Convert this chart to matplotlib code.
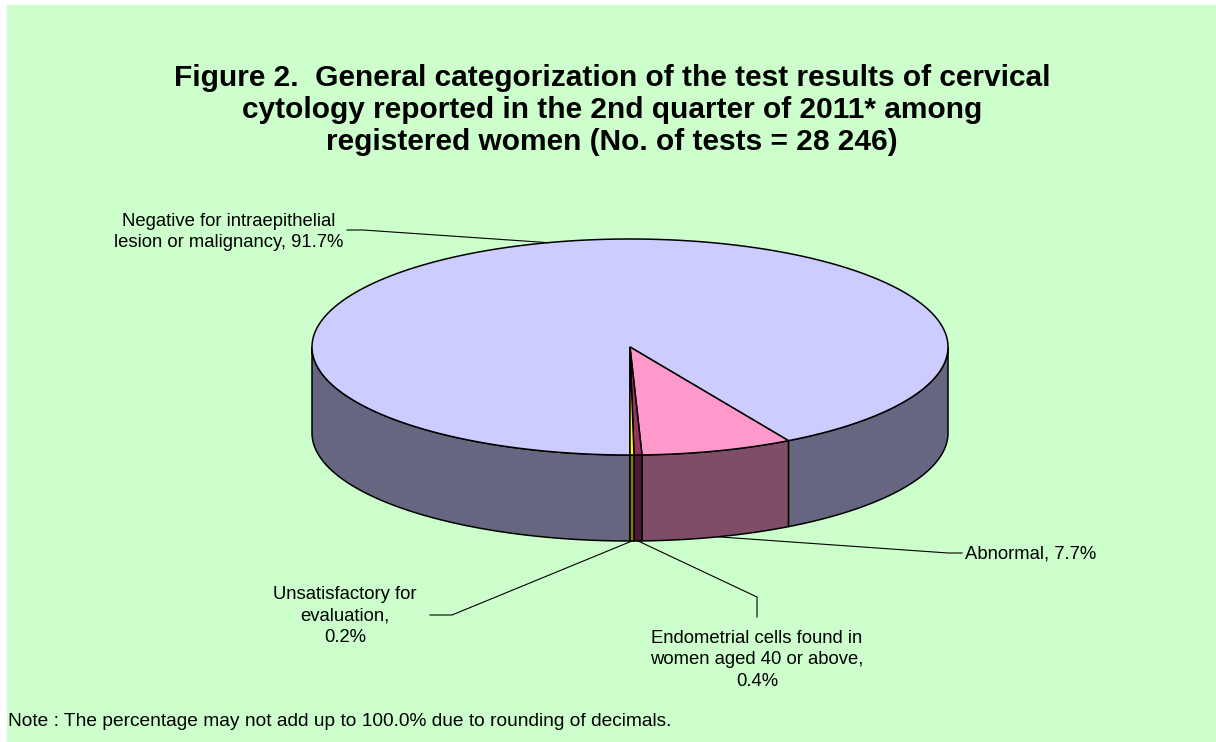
import numpy as np
import matplotlib
matplotlib.use("Agg")
import matplotlib.pyplot as plt
from matplotlib.patches import Polygon, Rectangle

plt.rcParams["font.family"] = ["Liberation Sans", "DejaVu Sans"]

# data (percent of tests)
categories = ["Negative for intraepithelial\nlesion or malignancy",
              "Abnormal",
              "Endometrial cells found in\nwomen aged 40 or above",
              "Unsatisfactory for\nevaluation"]
values = [91.7, 7.7, 0.4, 0.2]
top_colors = ["#CCCCFF", "#FF99CC", "#993366", "#FFFF00"]
side_colors = ["#666680", "#804D66", "#4D1A33", "#808000"]

# pie geometry in pixels
cx, cy = 630, 347
ra, rb = 318, 108
depth = 86

fig = plt.figure(figsize=(12.16, 7.42), dpi=100)
ax = fig.add_axes([0, 0, 1, 1])
ax.set_xlim(0, 1216)
ax.set_ylim(742, 0)
ax.axis("off")

ax.add_patch(Rectangle((7, 5), 1216, 742, facecolor="#CCFFCC", edgecolor="none", zorder=0))


def pt(theta, drop=0.0):
    t = np.radians(theta)
    return cx + ra * np.cos(t), cy - rb * np.sin(t) + drop


# slice angles: start at 6 o'clock, clockwise
total = sum(values)
bounds = []
hi = -90.0
for v in values:
    lo = hi - v / total * 360
    bounds.append((lo, hi))
    hi = lo

# side walls (front half only)
for (lo, hi), col in zip(bounds, side_colors):
    for k in range(-2, 2):
        a0 = max(lo, -180 + 360 * k)
        a1 = min(hi, 360 * k)
        if a1 <= a0:
            continue
        th = np.linspace(a0, a1, 80)
        x, y = pt(th)
        xb, yb = pt(th[::-1], depth)
        verts = np.column_stack([np.r_[x, xb], np.r_[y, yb]])
        ax.add_patch(Polygon(verts, closed=True, facecolor=col, edgecolor="black", lw=1.1, zorder=2))

# top faces
for (lo, hi), col in zip(bounds, top_colors):
    n = max(int((hi - lo) * 2), 4)
    th = np.linspace(lo, hi, n)
    x, y = pt(th)
    verts = np.column_stack([np.r_[cx, x], np.r_[cy, y]])
    ax.add_patch(Polygon(verts, closed=True, facecolor=col, edgecolor="black", lw=1.1, zorder=3))

# labels with leader lines
label_text = [f"{c}, {v}%" for c, v in zip(categories, values)]
label_text[3] = "Unsatisfactory for\nevaluation,\n0.2%"
label_text[2] = "Endometrial cells found in\nwomen aged 40 or above,\n0.4%"
mids = [(lo + hi) / 2 for lo, hi in bounds]
fs = 13.3
ls = 1.38

# negative
mx, my = pt(mids[0])
ax.plot([347, 363, mx], [230, 230, my], color="black", lw=0.8, zorder=4)
ax.text(229, 232, label_text[0], ha="center", va="center", fontsize=fs, linespacing=ls, zorder=5)
# abnormal
mx, my = pt(mids[1], depth)
ax.plot([962, 948, mx], [553, 553, my], color="black", lw=0.8, zorder=4)
ax.text(965, 554, label_text[1], ha="left", va="center", fontsize=fs, zorder=5)
# endometrial
mx, my = pt(mids[2], depth)
ax.plot([757, 757, mx], [617, 597, my], color="black", lw=0.8, zorder=4)
ax.text(757, 660, label_text[2], ha="center", va="center", fontsize=fs, linespacing=ls, zorder=5)
# unsatisfactory
mx, my = pt(mids[3], depth)
ax.plot([430, 452, mx], [615, 615, my], color="black", lw=0.8, zorder=4)
ax.text(345, 616, label_text[3], ha="center", va="center", fontsize=fs, linespacing=ls, zorder=5)

ax.text(612, 110, "Figure 2.  General categorization of the test results of cervical\n"
        "cytology reported in the 2nd quarter of 2011* among\n"
        "registered women (No. of tests = 28 246)",
        ha="center", va="center", fontsize=21.5, fontweight="bold", linespacing=1.16, zorder=5)

ax.text(8, 722, "Note : The percentage may not add up to 100.0% due to rounding of decimals.",
        ha="left", va="center", fontsize=13.8, zorder=5)

fig.savefig("out.png", dpi=100)
